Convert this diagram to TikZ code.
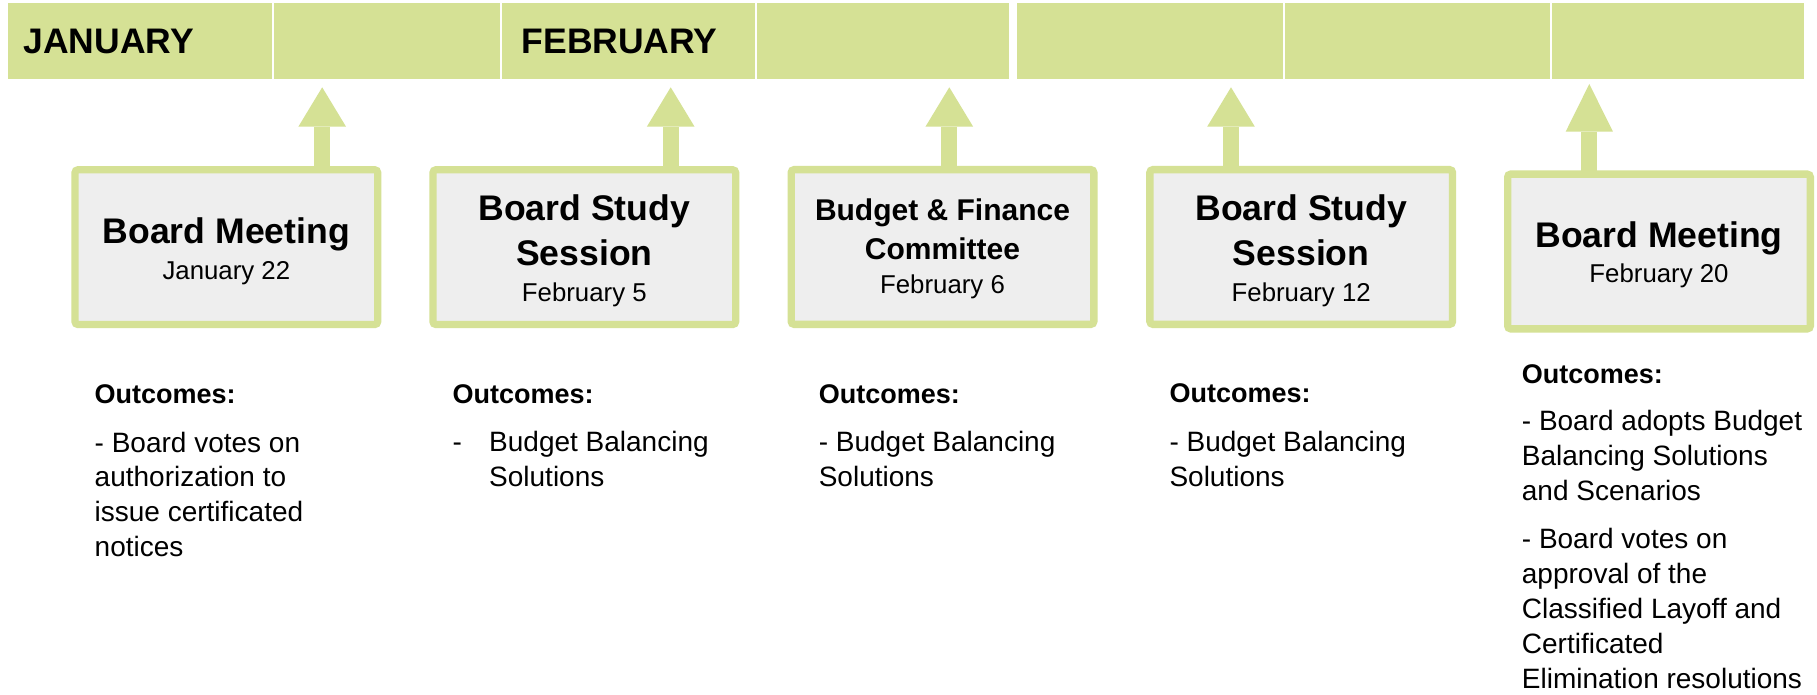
\documentclass[tikz,border=0pt]{standalone}
\usepackage{fontspec}
\setmainfont{Liberation Sans}
\usetikzlibrary{arrows.meta,calc}
\definecolor{barg}{HTML}{D5E195}
\definecolor{boxfill}{HTML}{EEEEEE}
\newcommand{\ctrlines}[1]{\parbox[t]{300pt}{\centering #1}}
\newcommand{\leftlines}[1]{\parbox[t]{330pt}{\raggedright #1}}
\begin{document}
\begin{tikzpicture}[x=1pt,y=-1pt,
  cell/.style={fill=barg, draw=none, inner sep=0, outer sep=0, minimum height=76pt, anchor=north west},
  month/.style={font=\fontsize{35.5}{40}\selectfont\bfseries, anchor=base west, inner sep=0},
  evbox/.style={draw=barg, fill=boxfill, line width=7.3pt, rounded corners=3pt, minimum width=302.7pt, minimum height=154.7pt, inner sep=0},
  ttl/.style={font=\fontsize{35.6}{45}\selectfont\bfseries, anchor=base, inner sep=0},
  ttlsmall/.style={font=\fontsize{30}{39}\selectfont\bfseries, anchor=base, inner sep=0},
  dte/.style={font=\fontsize{25.8}{30}\selectfont, anchor=base, inner sep=0},
  outh/.style={font=\fontsize{27}{35}\selectfont\bfseries, anchor=base west, inner sep=0},
  outb/.style={font=\fontsize{28}{34.8}\selectfont, anchor=base west, inner sep=0},
  arr/.style={draw=barg, line width=15.7pt, -{Triangle[width=47.7pt,length=39.4pt,line width=0pt]}}
]
\path[use as bounding box, fill=white] (0,0) rectangle (1817,695);

% month bar
\node[cell, minimum width=264pt] (c1) at (7.7,3.3) {};
\node[cell, minimum width=226pt] (c2) at (274,3.3) {};
\node[cell, minimum width=253.3pt] (c3) at (502,3.3) {};
\node[cell, minimum width=251.7pt] (c4) at (757.3,3.3) {};
\node[cell, minimum width=266pt] (c5) at (1016.7,3.3) {};
\node[cell, minimum width=265pt] (c6) at (1285,3.3) {};
\node[cell, minimum width=252.3pt] (c7) at (1552,3.3) {};
\node[month] (mjan) at (23.3,53.3) {JANUARY};
\node[month] (mfeb) at (521.5,53.3) {FEBRUARY};

% event boxes
\node[evbox] (b1) at (226.35,247.15) {};
\node[evbox] (b2) at (584.3,247.15) {};
\node[evbox] (b3) at (942.5,247) {};
\node[evbox] (b4) at (1301.2,247) {};
\node[evbox] (b5) at (1659,251.5) {};

\node[ttl] (b1t) at (226.35,243.3) {Board Meeting};
\node[dte] (b1d) at (226.35,279) {January 22};
\node[ttl] (b2t) at (584.3,220) {\ctrlines{Board Study\\Session}};
\node[dte] (b2d) at (584.3,301.7) {February 5};
\node[ttlsmall] (b3t) at (942.5,221) {\ctrlines{Budget \& Finance\\Committee}};
\node[dte] (b3d) at (942.5,293.3) {February 6};
\node[ttl] (b4t) at (1301.2,220) {\ctrlines{Board Study\\Session}};
\node[dte] (b4d) at (1301.2,301.7) {February 12};
\node[ttl] (b5t) at (1659,247.3) {Board Meeting};
\node[dte] (b5d) at (1659,282.7) {February 20};

% arrows
\coordinate (t1) at (322.2,87.3);
\coordinate (t2) at (670.7,87.3);
\coordinate (t3) at (949.3,87.3);
\coordinate (t4) at (1231,87.3);
\coordinate (t5) at (1589.3,84);
\draw[arr] ($(b1.north -| t1)+(0,3)$) -- (t1);
\draw[arr] ($(b2.north -| t2)+(0,3)$) -- (t2);
\draw[arr] ($(b3.north -| t3)+(0,3)$) -- (t3);
\draw[arr] ($(b4.north -| t4)+(0,3)$) -- (t4);
\draw[draw=barg, line width=15.7pt, -{Triangle[width=47.3pt,length=47.7pt,line width=0pt]}] ($(b5.north -| t5)+(0,3)$) -- (t5);

% outcomes
\node[outh] (o1h) at (94.5,403) {Outcomes:};
\node[outb] (o1) at (94.5,452) {\leftlines{- Board votes on\\authorization to\\issue certificated\\notices}};
\node[outh] (o2h) at (452.5,403) {Outcomes:};
\node[outb] (o2) at (452.5,451.7) {\begin{tabular}[t]{@{}p{36.5pt}@{}l@{}}-&Budget Balancing\\&Solutions\end{tabular}};
\node[outh] (o3h) at (818.6,403) {Outcomes:};
\node[outb] (o3) at (818.6,451.7) {\leftlines{- Budget Balancing\\Solutions}};
\node[outh] (o4h) at (1169.3,402.7) {Outcomes:};
\node[outb] (o4) at (1169.3,451.7) {\leftlines{- Budget Balancing\\Solutions}};
\node[outh] (o5h) at (1521.7,383.3) {Outcomes:};
\node[outb] (o5) at (1521.7,430.5) {\leftlines{- Board adopts Budget\\Balancing Solutions\\and Scenarios\\[14pt]- Board votes on\\approval of the\\Classified Layoff and\\Certificated\\Elimination resolutions}};
\end{tikzpicture}
\end{document}
